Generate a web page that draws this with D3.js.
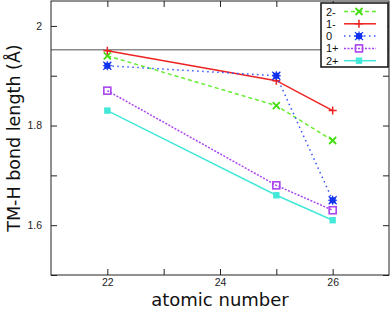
<!DOCTYPE html>
<html><head><meta charset="utf-8">
<script src="https://cdn.jsdelivr.net/npm/d3@7"></script>
<style>body{margin:0;background:#fff}svg{display:block}</style>
</head><body>
<script>
const atomicNumbers = [22, 25, 26];
const seriesNames = ["2-", "1-", "0", "1+", "2+"];
const s2minus = [1.94, 1.84, 1.77];
const s1minus = [1.95, 1.89, 1.83];
const s0 = [1.92, 1.90, 1.65];
const s1plus = [1.87, 1.68, 1.63];
const s2plus = [1.83, 1.66, 1.61];
const refLine = 1.952;
const xTicks = [22, 23, 24, 25, 26];
const xTickLabels = [22, 24, 26];
const yTicks = [1.5, 1.6, 1.7, 1.8, 1.9, 2.0];
const yTickLabels = [1.6, 1.8, 2.0];

const W = 392, H = 315;
const m = {l: 51, r: 3, t: 1, b: 40};
const svg = d3.select("body").append("svg").attr("width", W).attr("height", H);
const x = d3.scaleLinear().domain([21, 27]).range([m.l, W - m.r]);
const y = d3.scaleLinear().domain([1.5, 2.05]).range([H - m.b, m.t]);

const styles = [
  {color: "#66ee33", dash: "4,3", marker: "x", mcolor: "#44dd11"},
  {color: "#ee2222", dash: null, marker: "plus", mcolor: "#ee2222"},
  {color: "#3355ff", dash: "1.5,3.5", marker: "star", mcolor: "#1133ee"},
  {color: "#aa44ee", dash: "2,1.5", marker: "sqo", mcolor: "#aa44ee"},
  {color: "#44e8d8", dash: null, marker: "sqf", mcolor: "#44e8d8"}
];
const allSeries = [s2minus, s1minus, s0, s1plus, s2plus];

// reference line
svg.append("line").attr("x1", x(21)).attr("x2", x(27)).attr("y1", y(refLine)).attr("y2", y(refLine))
  .attr("stroke", "#8a8a8a").attr("stroke-width", 1.6);

// axes
const fontTick = "'Liberation Sans', Arial, sans-serif";
const fontTitle = "'DejaVu Sans', sans-serif";
const axB = d3.axisBottom(x).tickValues(xTicks).tickSize(-6).tickFormat(d => xTickLabels.includes(d) ? d : "").tickPadding(4);
const axT = d3.axisTop(x).tickValues(xTicks).tickSize(-6).tickFormat("");
const axL = d3.axisLeft(y).tickValues(yTicks).tickSize(-6).tickFormat(d => yTickLabels.some(v => Math.abs(v - d) < 1e-9) ? d3.format("")(+d.toFixed(1)) : "").tickPadding(9);
const axR = d3.axisRight(y).tickValues(yTicks).tickSize(-6).tickFormat("");
[[axB, `translate(0,${H - m.b})`], [axT, `translate(0,${m.t})`], [axL, `translate(${m.l},0)`], [axR, `translate(${W - m.r},0)`]].forEach(([a, t]) => {
  const g = svg.append("g").attr("transform", t).call(a);
  g.select(".domain").remove();
  g.selectAll(".tick line").attr("stroke", "#222");
  g.selectAll("text").attr("font-family", fontTick).attr("font-size", 10.5).attr("fill", "#222");
});
svg.append("rect").attr("x", x(21)).attr("y", y(2.05)).attr("width", x(27) - x(21)).attr("height", y(1.5) - y(2.05))
  .attr("fill", "none").attr("stroke", "#222").attr("stroke-width", 1);

function drawMarker(g, type, cx, cy, c) {
  if (type === "x") {
    g.append("path").attr("d", `M${cx-3.5},${cy-3.5}L${cx+3.5},${cy+3.5}M${cx-3.5},${cy+3.5}L${cx+3.5},${cy-3.5}`).attr("stroke", c).attr("stroke-width", 1.8);
  } else if (type === "plus") {
    g.append("path").attr("d", `M${cx-4},${cy}L${cx+4},${cy}M${cx},${cy-4}L${cx},${cy+4}`).attr("stroke", c).attr("stroke-width", 1.5);
  } else if (type === "star") {
    g.append("rect").attr("x", cx-3).attr("y", cy-3).attr("width", 6).attr("height", 6).attr("fill", c);
    g.append("path").attr("d", `M${cx-4},${cy-4}L${cx+4},${cy+4}M${cx-4},${cy+4}L${cx+4},${cy-4}M${cx-4.5},${cy}L${cx+4.5},${cy}M${cx},${cy-4.5}L${cx},${cy+4.5}`).attr("stroke", c).attr("stroke-width", 1.2);
  } else if (type === "sqo") {
    g.append("rect").attr("x", cx-3.5).attr("y", cy-3.5).attr("width", 7).attr("height", 7).attr("fill", "none").attr("stroke", c).attr("stroke-width", 1.6);
  } else {
    g.append("rect").attr("x", cx-3.2).attr("y", cy-3.2).attr("width", 6.4).attr("height", 6.4).attr("fill", c);
  }
}

const line = d3.line().x((d, i) => x(atomicNumbers[i])).y(d => y(d));
allSeries.forEach((s, k) => {
  const st = styles[k];
  const g = svg.append("g");
  g.append("path").attr("d", line(s)).attr("fill", "none").attr("stroke", st.color).attr("stroke-width", 1.5)
    .attr("stroke-dasharray", st.dash);
  s.forEach((v, i) => drawMarker(g, st.marker, x(atomicNumbers[i]), y(v), st.mcolor));
});

// legend
const lg = svg.append("g");
lg.append("rect").attr("x", 321).attr("y", 3).attr("width", 67).attr("height", 64).attr("fill", "#fff").attr("stroke", "#111").attr("stroke-width", 1.5);
seriesNames.forEach((n, k) => {
  const yy = 11.5 + k * 12.3;
  const st = styles[k];
  lg.append("text").attr("x", 326).attr("y", yy + 4).text(n).attr("font-family", fontTick).attr("font-size", 11).attr("fill", "#111");
  lg.append("line").attr("x1", 344).attr("x2", 376).attr("y1", yy).attr("y2", yy).attr("stroke", st.color).attr("stroke-width", 1.5).attr("stroke-dasharray", st.dash);
  drawMarker(lg, st.marker, 359, yy, st.mcolor);
});

// axis titles
svg.append("text").attr("x", (x(21) + x(27)) / 2).attr("y", 306).attr("text-anchor", "middle")
  .attr("font-family", fontTitle).attr("font-size", 18).attr("fill", "#111").text("atomic number");
svg.append("text").attr("transform", `translate(20,${(y(1.5) + y(2.05)) / 2}) rotate(-90)`).attr("text-anchor", "middle")
  .attr("font-family", fontTitle).attr("font-size", 17.5).attr("fill", "#111").text("TM-H bond length (Å)");
</script>
</body></html>
